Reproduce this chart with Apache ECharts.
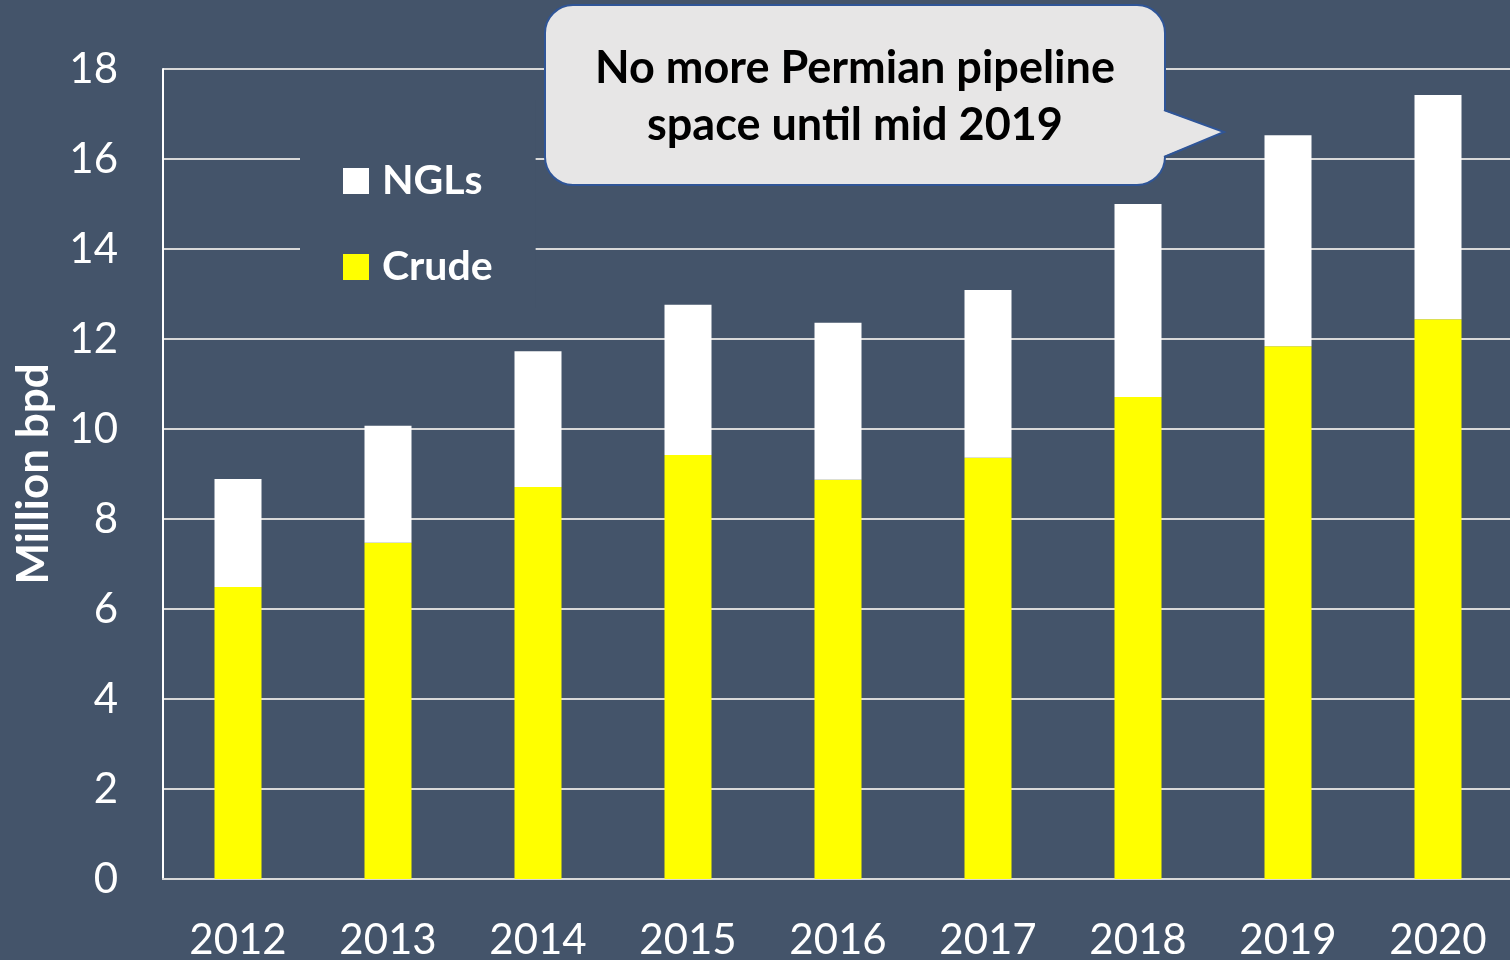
<!DOCTYPE html>
<html>
<head>
<meta charset="utf-8">
<script src="https://cdn.jsdelivr.net/npm/echarts@6/dist/echarts.min.js"></script>
<style>
  html, body { margin: 0; padding: 0; background: #44546A; }
  #chart { width: 1510px; height: 960px; }
</style>
</head>
<body>
<div id="chart"></div>
<script>
const years = ['2012', '2013', '2014', '2015', '2016', '2017', '2018', '2019', '2020']
const crude = [6.49, 7.47, 8.71, 9.42, 8.87, 9.36, 10.71, 11.84, 12.44]
const ngls = [2.40, 2.60, 3.02, 3.34, 3.49, 3.73, 4.29, 4.69, 4.98]
const calloutLines = ['No more Permian pipeline', 'space until mid 2019']

const font = 'Lato, "Open Sans", sans-serif'
const bg = '#44546A'

const chart = echarts.init(document.getElementById('chart'))

chart.setOption({
  backgroundColor: bg,
  animation: false,
  textStyle: { fontFamily: font },
  grid: { left: 163, top: 69, width: 1350, bottom: 81, containLabel: false, outerBoundsMode: 'none' },
  legend: {
    data: ['NGLs', 'Crude'],
    orient: 'vertical',
    left: 300,
    top: 100,
    padding: [60, 43, 20, 43],
    backgroundColor: bg,
    itemWidth: 26,
    itemHeight: 26,
    itemGap: 44,
    icon: 'rect',
    z: 10,
    textStyle: { color: '#fff', fontSize: 41, fontWeight: 'bold', fontFamily: font, lineHeight: 42, padding: [0, 0, 0, 8] }
  },
  xAxis: {
    type: 'category',
    data: years,
    axisLine: { lineStyle: { color: '#D9D9D9', width: 2 } },
    axisTick: { show: false },
    axisLabel: { color: '#fff', fontSize: 42, margin: 40, fontFamily: font }
  },
  yAxis: {
    type: 'value',
    min: 0,
    max: 18,
    interval: 2,
    name: 'Million bpd',
    nameLocation: 'middle',
    nameGap: 107,
    nameTextStyle: { color: '#fff', fontSize: 44, fontWeight: 'bold', fontFamily: font },
    axisLine: { show: true, lineStyle: { color: '#fff', width: 2 } },
    axisTick: { show: false },
    axisLabel: { color: '#fff', fontSize: 42, margin: 45, fontFamily: font },
    splitLine: { lineStyle: { color: '#D9D9D9', width: 2 } }
  },
  series: [
    {
      name: 'Crude',
      type: 'bar',
      stack: 'total',
      barWidth: 47,
      data: crude,
      itemStyle: { color: '#FFFF00' }
    },
    {
      name: 'NGLs',
      type: 'bar',
      stack: 'total',
      barWidth: 47,
      data: ngls,
      itemStyle: { color: '#FFFFFF' }
    }
  ],
  graphic: [
    {
      type: 'rect',
      z: 20,
      shape: { x: 545, y: 5, width: 620, height: 180, r: 28 },
      style: { fill: '#E7E6E6', stroke: '#2F5597', lineWidth: 2 }
    },
    {
      type: 'polygon',
      z: 21,
      shape: { points: [[1162, 110], [1224, 132], [1162, 157]] },
      style: { fill: '#E7E6E6' }
    },
    {
      type: 'polyline',
      z: 22,
      shape: { points: [[1164, 110], [1224, 132], [1164, 157]] },
      style: { stroke: '#2F5597', lineWidth: 2, fill: null }
    },
    {
      type: 'text',
      z: 23,
      x: 855,
      y: 97,
      style: {
        text: calloutLines.join('\n'),
        fill: '#000',
        font: 'bold 45px ' + font,
        lineHeight: 57,
        align: 'center',
        verticalAlign: 'middle'
      }
    }
  ]
})
</script>
</body>
</html>
